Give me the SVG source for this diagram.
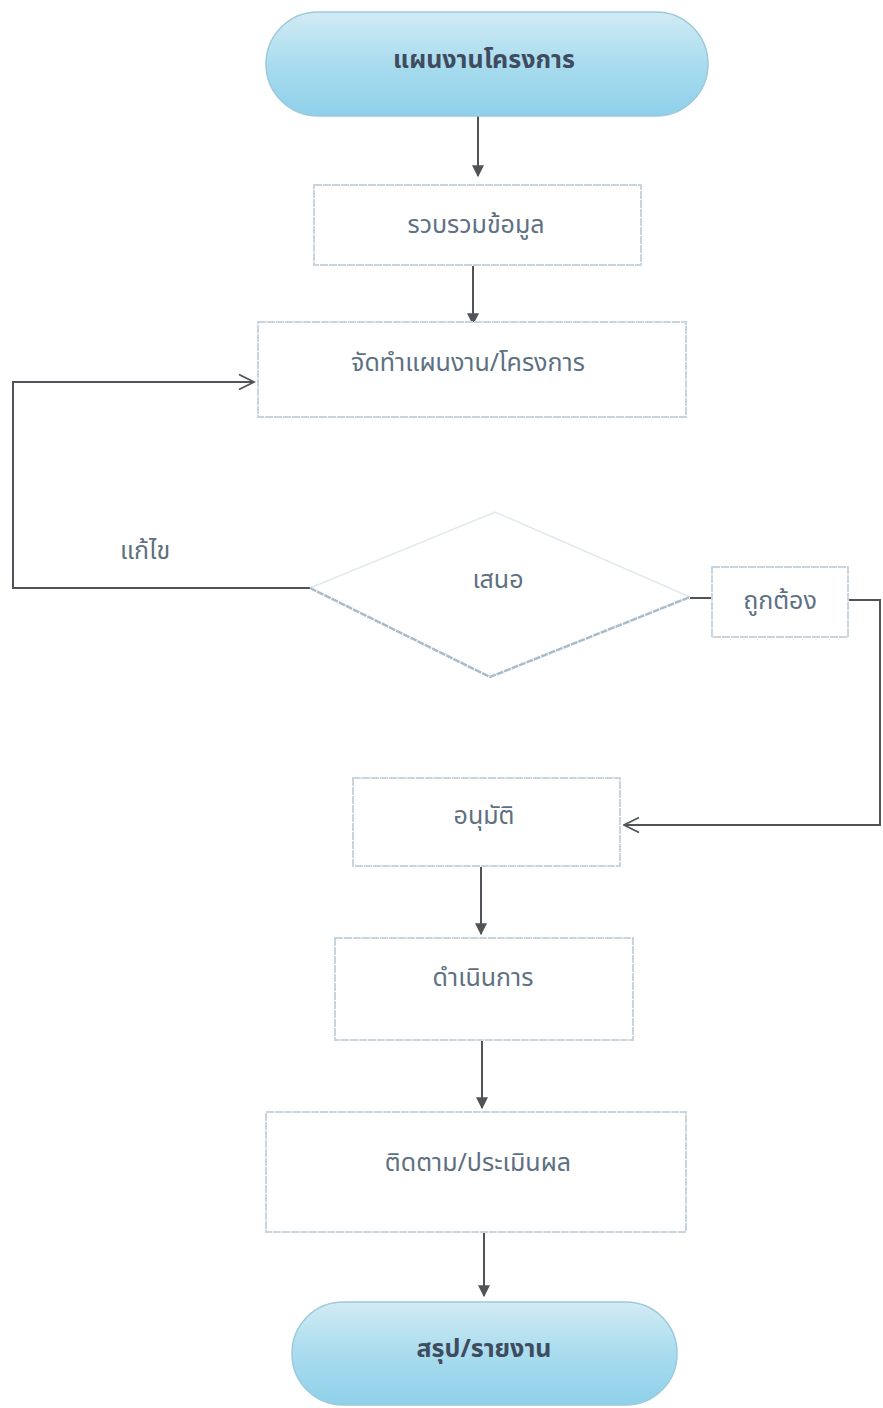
<svg xmlns="http://www.w3.org/2000/svg" width="883" height="1408" viewBox="0 0 883 1408">
<style>
.box{fill:#ffffff;stroke:#c9d5de;stroke-width:2;stroke-dasharray:8 1}
.term{fill:url(#tg);stroke:#9cc9dc;stroke-width:1.5}
.lbl{font-family:"Noto Sans Thai","Noto Sans","DejaVu Sans",sans-serif;font-size:25px;fill:#5d7182;text-anchor:middle;dominant-baseline:central}
.tlbl{font-family:"Noto Sans Thai","Noto Sans","DejaVu Sans",sans-serif;font-size:25px;font-weight:bold;fill:#3f4b5e;text-anchor:middle;dominant-baseline:central}
.ln{fill:none;stroke:#505458;stroke-width:2}
</style>
<defs>
<linearGradient id="tg" x1="0" y1="0" x2="0" y2="1">
<stop offset="0" stop-color="#d2ebf4"/>
<stop offset="0.5" stop-color="#a9dcee"/>
<stop offset="1" stop-color="#8fd0ea"/>
</linearGradient>
<marker id="ah" viewBox="0 0 10 10" refX="9" refY="5" markerWidth="12" markerHeight="12" orient="auto" markerUnits="userSpaceOnUse">
<path d="M0,0 L10,5 L0,10 z" fill="#505458"/>
</marker>
<marker id="oh" viewBox="0 0 12 12" refX="11" refY="6" markerWidth="18" markerHeight="18" orient="auto" markerUnits="userSpaceOnUse">
<path d="M1,1 L11,6 L1,11" fill="none" stroke="#505458" stroke-width="1.2"/>
</marker>
</defs>
<rect width="883" height="1408" fill="#ffffff"/>
<g id="connectors">
<line class="ln" x1="478" y1="116" x2="478" y2="176" marker-end="url(#ah)"/>
<line class="ln" x1="473" y1="266" x2="473" y2="324" marker-end="url(#ah)"/>
<polyline class="ln" points="310,588 13,588 13,382 254,382" marker-end="url(#oh)"/>
<line class="ln" x1="690" y1="598" x2="712" y2="598"/>
<polyline class="ln" points="848,600 880,600 880,825 624,825" marker-end="url(#oh)"/>
<line class="ln" x1="481" y1="867" x2="481" y2="934" marker-end="url(#ah)"/>
<line class="ln" x1="482" y1="1041" x2="482" y2="1108" marker-end="url(#ah)"/>
<line class="ln" x1="484" y1="1233" x2="484" y2="1296" marker-end="url(#ah)"/>
</g>
<g id="start">
<rect class="term" x="266" y="12" width="442" height="104" rx="52" ry="52"/>
<text class="tlbl" x="484" y="60">แผนงานโครงการ</text>
</g>
<g id="collect">
<rect class="box" x="314" y="185" width="327" height="80"/>
<text class="lbl" x="476" y="225">รวบรวมข้อมูล</text>
</g>
<g id="plan">
<rect class="box" x="258" y="322" width="428" height="95"/>
<text class="lbl" x="468" y="363">จัดทำแผนงาน/โครงการ</text>
</g>
<g id="revise-label">
<text class="lbl" x="145" y="551">แก้ไข</text>
</g>
<g id="propose">
<polygon points="495,512 690,597 490,677 310,588" fill="#ffffff" stroke="none"/>
<polyline points="310,588 495,512 690,597" fill="none" stroke="#e2e9ee" stroke-width="1.5"/>
<polyline points="310,588 490,677 690,597" fill="none" stroke="#a9bccb" stroke-width="2.5" stroke-dasharray="7 1"/>
<text class="lbl" x="498" y="580">เสนอ</text>
</g>
<g id="correct">
<rect class="box" x="712" y="567" width="136" height="70"/>
<text class="lbl" x="780" y="601">ถูกต้อง</text>
</g>
<g id="approve">
<rect class="box" x="353" y="778" width="267" height="88"/>
<text class="lbl" x="484" y="816">อนุมัติ</text>
</g>
<g id="execute">
<rect class="box" x="335" y="938" width="298" height="102"/>
<text class="lbl" x="483" y="978">ดำเนินการ</text>
</g>
<g id="monitor">
<rect class="box" x="266" y="1112" width="420" height="120"/>
<text class="lbl" x="478" y="1163">ติดตาม/ประเมินผล</text>
</g>
<g id="end">
<rect class="term" x="292" y="1302" width="385" height="103" rx="51" ry="51"/>
<text class="tlbl" x="484" y="1349">สรุป/รายงาน</text>
</g>
</svg>
